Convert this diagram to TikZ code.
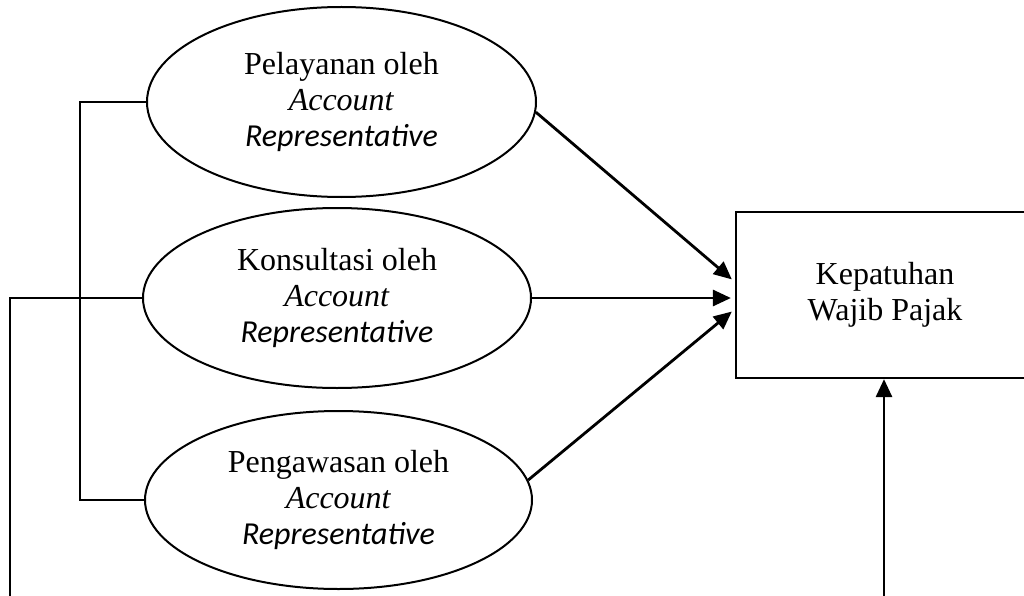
\documentclass[tikz,border=0pt]{standalone}
\usepackage{fontspec}
\setmainfont{Liberation Serif}
\newfontfamily\carl{Carlito}
\usetikzlibrary{shapes.geometric,arrows.meta}
\begin{document}
\begin{tikzpicture}[x=1pt,y=-1pt,
  every node/.style={font=\fontsize{32}{36}\selectfont, align=center},
  var/.style={ellipse, draw, line width=2pt, inner sep=0pt},
  outbox/.style={rectangle, draw, line width=2.2pt, inner sep=0pt},
  link/.style={line width=2.6pt},
  arr/.style={line width=2.8pt, -{Triangle[length=18pt,width=16pt]}}]
\useasboundingbox (0,0) rectangle (1024,596);
\node[var, minimum width=389pt, minimum height=190pt] (e1) at (341.5,102)
  {Pelayanan oleh\\\textit{Account}\\{\carl\itshape Representative}};
\node[var, minimum width=388pt, minimum height=180pt] (e2) at (337,298)
  {Konsultasi oleh\\\textit{Account}\\{\carl\itshape Representative}};
\node[var, minimum width=387pt, minimum height=178pt] (e3) at (338.5,500)
  {Pengawasan oleh\\\textit{Account}\\{\carl\itshape Representative}};
\node[outbox, minimum width=298pt, minimum height=166pt] (y) at (885,295)
  {Kepatuhan\\Wajib Pajak};
\coordinate (bl) at (80,300);
\coordinate (lb) at (10,596);
\coordinate (bt) at (884,596);
\draw[link] (e1.west) -| (bl) |- (e3.west);
\draw[link] (e2.west) -| (lb);
\draw[arr, shorten >=4pt] (e1.-3) -- ([yshift=13pt]y.west);
\draw[arr, shorten >=4pt] (e2.east) -- (e2.east -| y.west);
\draw[arr, shorten >=4pt] (e3.6.5) -- ([yshift=-14pt]y.west);
\draw[arr] (bt) -- (bt |- y.south);
\end{tikzpicture}
\end{document}
